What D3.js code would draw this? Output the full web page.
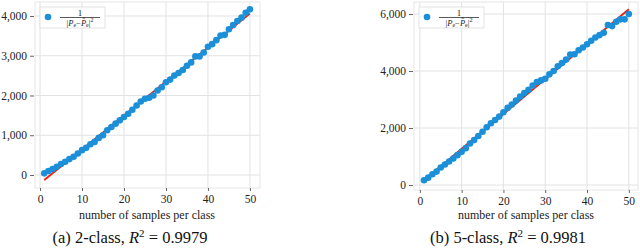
<!DOCTYPE html>
<html lang="en">
<head>
<meta charset="utf-8">
<script src="https://cdnjs.cloudflare.com/ajax/libs/d3/7.8.5/d3.min.js"></script>
<style>
  body { margin: 0; background: #fff; }
  svg { display: block; font-family: "Liberation Serif", "DejaVu Serif", serif; }
  .grid line { stroke: #e2e2e2; stroke-width: 1; }
  .axis path { display: none; }
  .axis line { stroke: #666; }
  .axis text { fill: #222; font-size: 11.5px; font-family: "Liberation Serif", serif; }
</style>
</head>
<body>
<svg width="640" height="249"></svg>
<script>
// samples per class (x)
var samples = [1,2,3,4,5,6,7,8,9,10,11,12,13,14,15,16,17,18,19,20,21,22,23,24,25,
               26,27,28,29,30,31,32,33,34,35,36,37,38,39,40,41,42,43,44,45,46,47,48,49,50];

// 1/|Pe - Pe_hat|^2, 2-class
var twoClass = [42,100,150,208,275,333,400,458,542,625,683,775,833,933,1000,1125,1208,1292,1375,1458,
                1542,1642,1750,1850,1917,1942,2000,2125,2208,2333,2400,2500,2567,2642,2750,2833,2983,2983,3083,3225,
                3292,3392,3508,3525,3667,3775,3875,3958,4083,4167];

// 1/|Pe - Pe_hat|^2, 5-class
var fiveClass = [165,259,376,470,612,718,824,929,1047,1165,1294,1459,1576,1718,1871,2024,2165,2282,2400,2553,
                 2706,2824,2965,3106,3224,3341,3494,3612,3671,3729,3882,4000,4165,4282,4400,4576,4588,4729,4824,4941,
                 5059,5176,5259,5341,5612,5576,5729,5812,5812,6000];

var xTicks = [0,10,20,30,40,50];
var yTicksA = [0,1000,2000,3000,4000];
var yTicksB = [0,2000,4000,6000];

var svg = d3.select("svg");
var fmt = d3.format(",");

// least squares fit
function fit(xv, yv) {
    var mx = d3.mean(xv), my = d3.mean(yv);
    var sxy = 0, sxx = 0;
    for (var i = 0; i < xv.length; i++) {
        sxy += (xv[i]-mx)*(yv[i]-my);
        sxx += (xv[i]-mx)*(xv[i]-mx);
    }
    var b = sxy/sxx;
    return {a: my - b*mx, b: b};
}

function panel(cfg) {
    var g = svg.append("g");
    var x = d3.scaleLinear().domain(cfg.xdom).range([cfg.left, cfg.right]);
    var y = d3.scaleLinear().domain(cfg.ydom).range([cfg.bottom, cfg.top]);

    // grid
    var grid = g.append("g").attr("class", "grid");
    grid.selectAll(".v").data(xTicks).enter().append("line")
        .attr("x1", d => x(d)).attr("x2", d => x(d))
        .attr("y1", cfg.top).attr("y2", cfg.bottom);
    grid.selectAll(".h").data(cfg.yTicks).enter().append("line")
        .attr("x1", cfg.left).attr("x2", cfg.right)
        .attr("y1", d => y(d)).attr("y2", d => y(d));
    g.append("rect")
        .attr("x", cfg.left).attr("y", cfg.top)
        .attr("width", cfg.right - cfg.left).attr("height", cfg.bottom - cfg.top)
        .attr("fill", "none").attr("stroke", "#e6e6e6");

    // axes
    g.append("g").attr("class", "axis")
        .attr("transform", "translate(" + (cfg.left - 1) + ",0)")
        .call(d3.axisLeft(y).tickValues(cfg.yTicks).tickFormat(fmt).tickSize(4).tickPadding(3));
    g.append("g").attr("class", "axis")
        .attr("transform", "translate(0," + cfg.bottom + ")")
        .call(d3.axisBottom(x).tickValues(xTicks).tickSize(3).tickPadding(4));

    // regression line
    var f = fit(samples, cfg.values);
    var x0 = d3.min(samples), x1 = d3.max(samples);
    g.append("line")
        .attr("x1", x(x0)).attr("y1", y(f.a + f.b*x0))
        .attr("x2", x(x1)).attr("y2", y(f.a + f.b*x1))
        .attr("stroke", "#ee1c10").attr("stroke-width", 1.8);

    // points
    g.append("g").selectAll("circle").data(cfg.values).enter().append("circle")
        .attr("cx", (d, i) => x(samples[i]))
        .attr("cy", d => y(d))
        .attr("r", 3.3)
        .attr("fill", "#1b8fd8");

    // legend
    var lg = g.append("g").attr("transform", "translate(" + (cfg.left + 5) + "," + (cfg.top + 5) + ")");
    lg.append("rect").attr("width", 65).attr("height", 21)
        .attr("fill", "#fff").attr("stroke", "#dcdcdc").attr("stroke-width", 0.8);
    lg.append("circle").attr("cx", 8).attr("cy", 10).attr("r", 3.3).attr("fill", "#1b8fd8");
    lg.append("text").attr("x", 40).attr("y", 8.5).attr("text-anchor", "middle")
        .attr("font-size", 8).text("1");
    lg.append("line").attr("x1", 20).attr("x2", 60).attr("y1", 10.5).attr("y2", 10.5)
        .attr("stroke", "#111").attr("stroke-width", 0.7);
    var den = lg.append("text").attr("x", 40).attr("y", 18.5).attr("text-anchor", "middle")
        .attr("font-size", 8.5).attr("fill", "#222");
    den.append("tspan").text("|");
    den.append("tspan").attr("font-style", "italic").text("P");
    den.append("tspan").attr("font-size", 6).attr("dy", 1.5).text("e");
    den.append("tspan").attr("dy", -1.5).text("\u2212");
    den.append("tspan").attr("font-style", "italic").text("P\u0302");
    den.append("tspan").attr("font-size", 6).attr("dy", 1.5).text("e");
    den.append("tspan").attr("dy", -1.5).text("|");
    den.append("tspan").attr("font-size", 6).attr("dy", -3.5).text("2");

    // axis title
    g.append("text").attr("x", cfg.labelX).attr("y", 219)
        .attr("text-anchor", "middle").attr("font-size", 12).attr("fill", "#222")
        .text("number of samples per class");

    // caption
    var cap = g.append("text").attr("x", cfg.capX).attr("y", 243)
        .attr("text-anchor", "middle").attr("font-size", 16.5).attr("fill", "#111");
    cap.append("tspan").text(cfg.caption + ", ");
    cap.append("tspan").attr("font-style", "italic").text("R");
    cap.append("tspan").attr("font-size", 11).attr("dy", -6).text("2");
    cap.append("tspan").attr("dy", 6).text(" = " + cfg.r2);
}

panel({values: twoClass, yTicks: yTicksA, xdom: [-1.2, 52.4], ydom: [-327, 4352],
       left: 35, right: 260, top: 2, bottom: 188,
       labelX: 147, capX: 130, caption: "(a) 2-class", r2: "0.9979"});

panel({values: fiveClass, yTicks: yTicksB, xdom: [-1.4, 52.2], ydom: [-175, 6421],
       left: 414, right: 638, top: 2, bottom: 190,
       labelX: 526, capX: 508, caption: "(b) 5-class", r2: "0.9981"});
</script>
</body>
</html>
